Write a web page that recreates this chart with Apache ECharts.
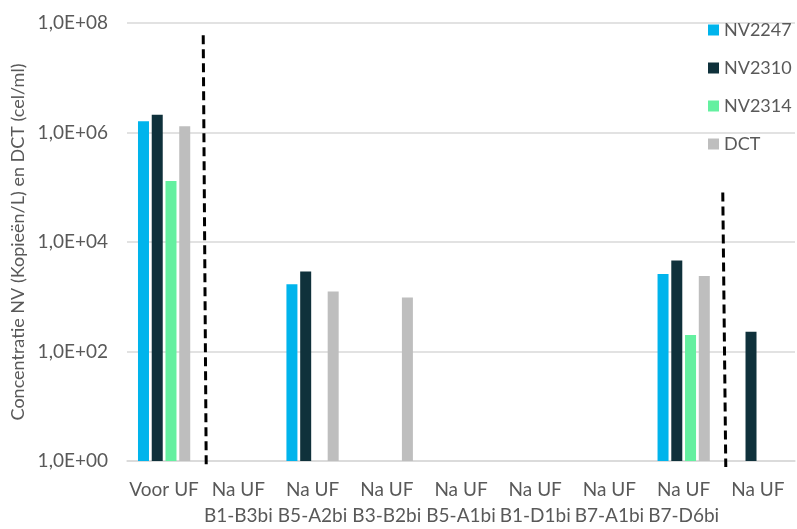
<!DOCTYPE html>
<html>
<head>
<meta charset="utf-8">
<script src="https://cdn.jsdelivr.net/npm/echarts@6/dist/echarts.min.js"></script>
<style>
	html, body { margin: 0; padding: 0; background: #fff; }
	#main { width: 797px; height: 529px; }
</style>
</head>
<body>
<div id="main"></div>
<script>
	// categorieen (twee regels, zoals in Excel)
	var categories = ['Voor UF', 'Na UF\nB1-B3bi', 'Na UF\nB5-A2bi', 'Na UF\nB3-B2bi', 'Na UF\nB5-A1bi',
		'Na UF\nB1-D1bi', 'Na UF\nB7-A1bi', 'Na UF\nB7-D6bi', 'Na UF'];

	var seriesNames = ['NV2247', 'NV2310', 'NV2314', 'DCT'];

	var nv2247 = [1.6e6, null, 1.7e3, null, null, null, null, 2.6e3, null];
	var nv2310 = [2.1e6, null, 2.9e3, null, null, null, null, 4.6e3, 2.3e2];
	var nv2314 = [1.3e5, null, null, null, null, null, null, 2.0e2, null];
	var dct = [1.3e6, null, 1.25e3, 9.7e2, null, null, null, 2.4e3, null];

	// y-as: 1,0E+00 .. 1,0E+08, stap 2 decaden
	var yMin = 1;
	var yMax = 1e8;

	// gestippelde scheidingslijnen: na welke categorie, en tot welke waarde
	var dividerAfter = [0, 7];
	var dividerTop = [6e7, 8e4];

	var colorArr = ['#00b4ec', '#0f313b', '#64f0a0', '#bebebe'];
	var textColor = '#595959';
	var gridColor = '#d9d9d9';
	var font = 'Lato';

	var chart = echarts.init(document.getElementById('main'));

	var allData = [nv2247, nv2310, nv2314, dct];
	var series = [];
	for (var i = 0; i < seriesNames.length; i++) {
		series.push({
			name: seriesNames[i],
			type: 'bar',
			barWidth: 11,
			barGap: '25%',
			data: allData[i],
			itemStyle: { color: colorArr[i] },
			animation: false
		});
	}

	var option = {
		animation: false,
		grid: {
			left: 127,
			right: 2,
			top: 23,
			bottom: 65
		},
		legend: {
			orient: 'vertical',
			left: 703,
			top: 16,
			itemWidth: 11,
			itemHeight: 11,
			itemGap: 20,
			icon: 'rect',
			textStyle: { color: textColor, fontSize: 18, fontFamily: font },
			data: seriesNames
		},
		xAxis: {
			type: 'category',
			data: categories,
			axisTick: { show: false },
			axisLine: { lineStyle: { color: gridColor, width: 1.5 } },
			axisLabel: {
				color: textColor,
				fontSize: 19,
				fontFamily: font,
				lineHeight: 26,
				margin: 16,
				interval: 0
			}
		},
		yAxis: {
			type: 'log',
			logBase: 10,
			min: yMin,
			max: yMax,
			interval: 2,
			name: 'Concentratie NV (Kopieën/L) en DCT (cel/ml)',
			nameLocation: 'middle',
			nameGap: 100,
			nameTextStyle: { color: textColor, fontSize: 18, fontFamily: font },
			axisLine: { show: false },
			axisTick: { show: false },
			axisLabel: {
				color: textColor,
				fontSize: 19,
				fontFamily: font,
				margin: 19,
				formatter: function(v) {
					var e = Math.round(Math.log(v) / Math.LN10);
					return '1,0E+' + (e < 10 ? '0' + e : e);
				}
			},
			splitLine: { lineStyle: { color: gridColor, width: 1.5 } }
		},
		series: series
	};
	chart.setOption(option);

	// scheidingslijnen tekenen op categoriegrenzen
	var graphics = [];
	for (var k = 0; k < dividerAfter.length; k++) {
		var a = chart.convertToPixel({ seriesIndex: 0 }, [dividerAfter[k], dividerTop[k]]);
		var b = chart.convertToPixel({ seriesIndex: 0 }, [dividerAfter[k] + 1, yMin]);
		var xb = (a[0] + b[0]) / 2;
		graphics.push({
			type: 'line',
			shape: { x1: xb + 2, y1: a[1], x2: xb + 5, y2: b[1] + 6 },
			style: { stroke: '#000', lineWidth: 3, lineDash: [9, 5] },
			z: 10
		});
	}
	chart.setOption({ graphic: graphics });
</script>
</body>
</html>
